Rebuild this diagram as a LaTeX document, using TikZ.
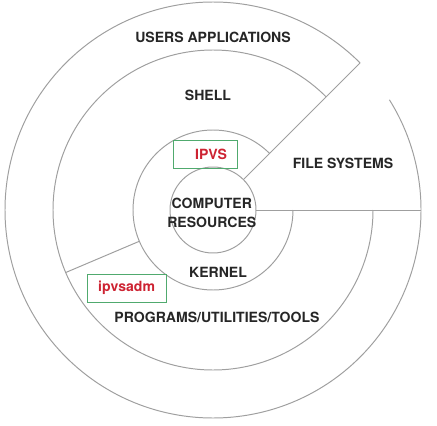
\documentclass[tikz,border=0pt]{standalone}
\usepackage{fontspec}
\setsansfont{TeX Gyre Heros}
\usetikzlibrary{calc}
\definecolor{tagred}{RGB}{205,35,50}
\definecolor{taggreen}{RGB}{80,170,110}
\tikzset{
  ring/.style={draw=gray!75, line width=0.7pt},
  layer/.style={font=\sffamily\bfseries\fontsize{10}{13.5}\selectfont, text=black!85, align=center},
  tagbox/.style={draw=taggreen, line width=0.6pt, text=tagred, minimum height=0.7cm,
    font=\sffamily\bfseries\fontsize{10}{12}\selectfont}
}

\begin{document}
\begin{tikzpicture}
          \useasboundingbox (-5.325,-5.375) rectangle (5.6,5.25);

          \draw[ring] (0,0) circle (1.075);
          \draw[ring] (45:2) arc (45:360:2);
          \draw[ring] (45:4) arc (45:360:4);
          \draw[ring] (45:5.2) arc (45:392:5.2);

          \draw[ring] (45:1.075) -- (45:5.2);
          \draw[ring] (0:1.075) -- (0:5.2);
          \draw[ring] (203:2) -- (203:4);

          \node[layer] (users) at (0, 4.325) {USERS APPLICATIONS};
          \node[layer] (shell) at (-0.125, 2.875) {SHELL};
          \node[layer] (files) at (3.25, 1.175) {FILE SYSTEMS};
          \node[layer] (resources) at (-0.03, -0.06) {COMPUTER\\RESOURCES};
          \node[layer] (kernel) at (0.125, -1.55) {KERNEL};
          \node[layer] (programs) at (0.1, -2.675) {PROGRAMS/UTILITIES/TOOLS};

          \node[tagbox, minimum width=1.6cm] (ipvs) at (-0.2, 1.4) {\hspace{0.3cm}IPVS};
          \node[tagbox, minimum width=1.975cm] (ipvsadm) at (-2.16, -1.95) {ipvsadm};
        \end{tikzpicture}
\end{document}
